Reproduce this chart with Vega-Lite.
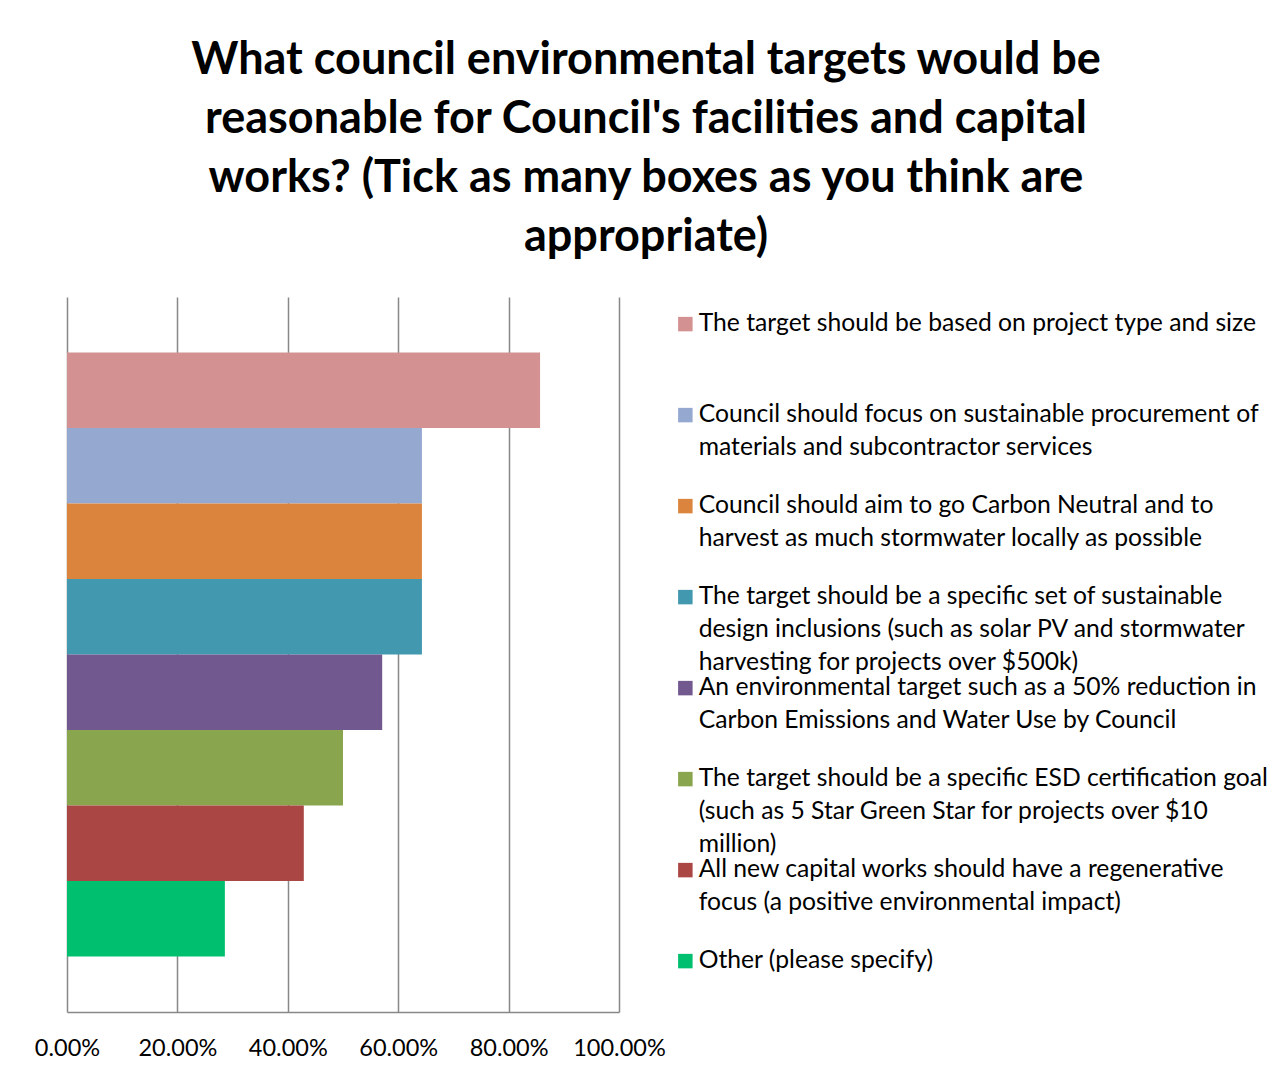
{
  "$schema": "https://vega.github.io/schema/vega-lite/v6.json",
  "width": 552,
  "height": 715,
  "autosize": {"type": "none"},
  "padding": {"left": 67, "top": 297, "right": 666, "bottom": 62},
  "background": "white",
  "title": {
    "text": ["What council environmental targets would be", "reasonable for Council's facilities and capital", "works? (Tick as many boxes as you think are", "appropriate)"],
    "anchor": "middle",
    "dx": 303,
    "offset": 37,
    "font": "Lato",
    "fontSize": 45,
    "fontWeight": "bold",
    "lineHeight": 59,
    "color": "black"
  },
  "data": {
    "values": [
      {"option": "The target should be based on project type and size", "percent": 0.857},
      {"option": "Council should focus on sustainable procurement of materials and subcontractor services", "percent": 0.643},
      {"option": "Council should aim to go Carbon Neutral and to harvest as much stormwater locally as possible", "percent": 0.643},
      {"option": "The target should be a specific set of sustainable design inclusions (such as solar PV and stormwater harvesting for projects over $500k)", "percent": 0.643},
      {"option": "An environmental target such as a 50% reduction in Carbon Emissions and Water Use by Council", "percent": 0.571},
      {"option": "The target should be a specific ESD certification goal (such as 5 Star Green Star for projects over $10 million)", "percent": 0.5},
      {"option": "All new capital works should have a regenerative focus (a positive environmental impact)", "percent": 0.429},
      {"option": "Other (please specify)", "percent": 0.286}
    ]
  },
  "mark": {"type": "bar"},
  "encoding": {
    "y": {
      "field": "option",
      "type": "nominal",
      "sort": null,
      "axis": null,
      "scale": {"paddingInner": 0, "paddingOuter": 0.735}
    },
    "x": {
      "field": "percent",
      "type": "quantitative",
      "scale": {"domain": [0, 1]},
      "axis": {
        "values": [0, 0.2, 0.4, 0.6, 0.8, 1],
        "format": ".2%",
        "title": null,
        "labelFont": "Lato",
        "labelFontSize": 23.5,
        "labelColor": "black",
        "labelPadding": 24,
        "labelFlush": false,
        "ticks": false,
        "domainColor": "#888888",
        "domainWidth": 1.5,
        "gridColor": "#888888",
        "gridWidth": 1.5
      }
    },
    "color": {
      "field": "option",
      "type": "nominal",
      "sort": null,
      "scale": {"range": ["#D39291", "#95A9D0", "#DB843D", "#4198AF", "#71588F", "#89A54E", "#AA4643", "#00BF6F"]},
      "legend": {
        "title": null,
        "orient": "none",
        "legendX": 606,
        "legendY": 22,
        "padding": 0,
        "symbolType": "M-1,-2H1V0H-1Z",
        "symbolSize": 210,
        "symbolStrokeWidth": 0,
        "symbolOpacity": 1,
        "labelFont": "Lato",
        "labelFontSize": 24.7,
        "labelColor": "black",
        "labelLimit": 700,
        "labelOffset": 1,
        "labelBaseline": "alphabetic",
        "rowPadding": 0,
        "labelExpr": "indexof(datum.label, 'project type') >= 0 ? ['The target should be based on project type and size', ' ', ' '] : indexof(datum.label, 'procurement') >= 0 ? ['Council should focus on sustainable procurement of', 'materials and subcontractor services', ' '] : indexof(datum.label, 'Carbon Neutral') >= 0 ? ['Council should aim to go Carbon Neutral and to', 'harvest as much stormwater locally as possible', ' '] : indexof(datum.label, 'design inclusions') >= 0 ? ['The target should be a specific set of sustainable', 'design inclusions (such as solar PV and stormwater', 'harvesting for projects over $500k)'] : indexof(datum.label, '50% reduction') >= 0 ? ['An environmental target such as a 50% reduction in', 'Carbon Emissions and Water Use by Council', ' '] : indexof(datum.label, 'ESD') >= 0 ? ['The target should be a specific ESD certification goal', '(such as 5 Star Green Star for projects over $10', 'million)'] : indexof(datum.label, 'regenerative') >= 0 ? ['All new capital works should have a regenerative', 'focus (a positive environmental impact)', ' '] : ['Other (please specify)', ' ', ' ']"
      }
    }
  },
  "config": {
    "view": {"stroke": null},
    "style": {"guide-label": {"lineHeight": 32.7}}
  }
}
